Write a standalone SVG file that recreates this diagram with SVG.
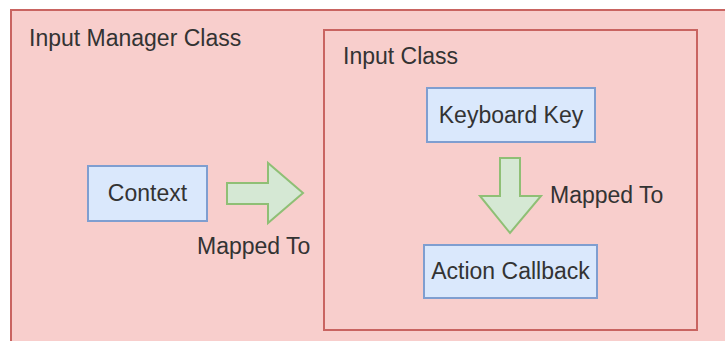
<svg xmlns="http://www.w3.org/2000/svg" width="725" height="341" viewBox="0 0 725 341">
  <style>
    .container { fill: #f8cecc; stroke: #c96461; stroke-width: 2; }
    .node { fill: #dae8fc; stroke: #7f9ed0; stroke-width: 2; }
    .arrow { fill: #d5e8d4; stroke: #8fbf75; stroke-width: 2; stroke-linejoin: miter; }
    text { font-family: "Liberation Sans", Arial, sans-serif; font-size: 23px; fill: #333333; }
    .mid { text-anchor: middle; }
  </style>

  <rect x="0" y="0" width="725" height="341" fill="#ffffff"/>

  <g id="input-manager-class">
    <rect class="container" x="11" y="10" width="730" height="345"/>
    <text x="29" y="46">Input Manager Class</text>
  </g>

  <g id="input-class">
    <rect class="container" x="324" y="30" width="373" height="300"/>
    <text x="343" y="64">Input Class</text>
  </g>

  <g id="context">
    <rect class="node" x="88" y="166" width="119" height="55"/>
    <text class="mid" x="147.5" y="201">Context</text>
  </g>

  <g id="keyboard-key">
    <rect class="node" x="427" y="88" width="168" height="54"/>
    <text class="mid" x="511" y="123">Keyboard Key</text>
  </g>

  <g id="action-callback">
    <rect class="node" x="424" y="245" width="173" height="53"/>
    <text class="mid" x="510.5" y="279">Action Callback</text>
  </g>

  <g id="connectors">
    <!-- Context to Input Class -->
    <polygon class="arrow" points="227,183 268,183 268,163 303,193 268,223 268,204 227,204"/>
    <text x="197" y="254">Mapped To</text>
    <!-- Keyboard Key to Action Callback -->
    <polygon class="arrow" points="500,158 520,158 520,196 541,196 510,233 480,196 500,196"/>
    <text x="550" y="203">Mapped To</text>
  </g>
</svg>
